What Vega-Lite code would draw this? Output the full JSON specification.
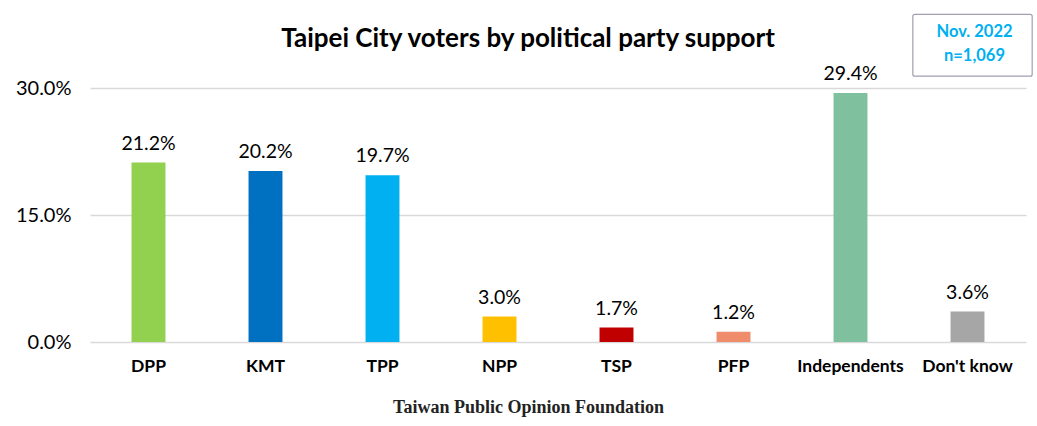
{
  "$schema": "https://vega.github.io/schema/vega-lite/v6.json",
  "width": 936,
  "height": 254,
  "autosize": {"type": "none"},
  "padding": {"left": 90, "top": 88, "right": 11, "bottom": 84},
  "background": "white",
  "config": {
    "view": {"stroke": null},
    "font": "Lato"
  },
  "title": {
    "text": "Taipei City voters by political party support",
    "font": "Lato",
    "fontSize": 26,
    "fontWeight": "bold",
    "color": "#000000",
    "anchor": "middle",
    "offset": -38,
    "dx": -30
  },
  "datasets": {
    "bars": [
      {"party": "DPP", "pct": 21.2, "color": "#92D050"},
      {"party": "KMT", "pct": 20.2, "color": "#0070C0"},
      {"party": "TPP", "pct": 19.7, "color": "#00B0F0"},
      {"party": "NPP", "pct": 3.0, "color": "#FFC000"},
      {"party": "TSP", "pct": 1.7, "color": "#C00000"},
      {"party": "PFP", "pct": 1.2, "color": "#EE8C6C"},
      {"party": "Independents", "pct": 29.4, "color": "#7FC09E"},
      {"party": "Don't know", "pct": 3.6, "color": "#A6A6A6"}
    ],
    "note": [
      {"party": "Don't know", "top": 38.7, "bottom": 31.4, "line1": "Nov. 2022", "y1": 36.6, "line2": "n=1,069", "y2": 33.8}
    ]
  },
  "layer": [
    {
      "data": {"name": "bars"},
      "mark": {"type": "bar", "width": {"band": 0.29}},
      "encoding": {
        "x": {
          "field": "party",
          "type": "nominal",
          "sort": ["DPP", "KMT", "TPP", "NPP", "TSP", "PFP", "Independents", "Don't know"],
          "scale": {"paddingInner": 0, "paddingOuter": 0},
          "axis": {
            "title": "Taiwan Public Opinion Foundation",
            "titleFont": "Liberation Serif",
            "titleFontSize": 18,
            "titleFontWeight": "bold",
            "titleColor": "#222222",
            "titleX": 438,
            "titleY": 56,
            "labelAngle": 0,
            "labelFont": "Lato",
            "labelFontSize": 17.5,
            "labelFontWeight": "bold",
            "labelColor": "#000000",
            "labelPadding": 15,
            "ticks": false,
            "domain": false
          }
        },
        "y": {
          "field": "pct",
          "type": "quantitative",
          "scale": {"domain": [0, 30], "nice": false},
          "axis": {
            "title": null,
            "values": [0, 15, 30],
            "labelExpr": "format(datum.value, '.1f') + '%'",
            "labelFont": "Lato",
            "labelFontSize": 20,
            "labelColor": "#000000",
            "labelPadding": 19,
            "ticks": false,
            "domain": false,
            "grid": true,
            "gridColor": "#D9D9D9",
            "gridWidth": 1.5
          }
        },
        "color": {"field": "color", "type": "nominal", "scale": null, "legend": null}
      }
    },
    {
      "data": {"name": "bars"},
      "mark": {"type": "text", "baseline": "bottom", "dy": -9, "fontSize": 19.5, "font": "Lato", "color": "#000000", "text": {"expr": "format(datum.pct, '.1f') + '%'"}},
      "encoding": {
        "x": {"field": "party", "type": "nominal", "sort": ["DPP", "KMT", "TPP", "NPP", "TSP", "PFP", "Independents", "Don't know"]},
        "y": {"field": "pct", "type": "quantitative"}
      }
    },
    {
      "data": {"name": "note"},
      "mark": {"type": "rect", "width": {"band": 1.02}, "fill": "white", "stroke": "#A0A0B0", "strokeWidth": 1.2, "cornerRadius": 2, "xOffset": 5},
      "encoding": {
        "x": {"field": "party", "type": "nominal", "sort": ["DPP", "KMT", "TPP", "NPP", "TSP", "PFP", "Independents", "Don't know"]},
        "y": {"field": "top", "type": "quantitative"},
        "y2": {"field": "bottom"}
      }
    },
    {
      "data": {"name": "note"},
      "mark": {"type": "text", "fontSize": 16.5, "fontWeight": "bold", "font": "Lato", "color": "#00B0F0", "dx": 7},
      "encoding": {
        "x": {"field": "party", "type": "nominal", "sort": ["DPP", "KMT", "TPP", "NPP", "TSP", "PFP", "Independents", "Don't know"]},
        "y": {"field": "y1", "type": "quantitative"},
        "text": {"field": "line1"}
      }
    },
    {
      "data": {"name": "note"},
      "mark": {"type": "text", "fontSize": 16.5, "fontWeight": "bold", "font": "Lato", "color": "#00B0F0", "dx": 7},
      "encoding": {
        "x": {"field": "party", "type": "nominal", "sort": ["DPP", "KMT", "TPP", "NPP", "TSP", "PFP", "Independents", "Don't know"]},
        "y": {"field": "y2", "type": "quantitative"},
        "text": {"field": "line2"}
      }
    }
  ]
}
